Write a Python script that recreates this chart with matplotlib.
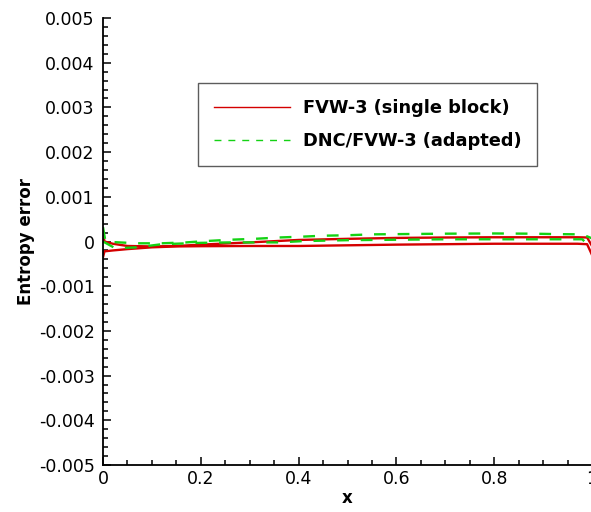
import matplotlib
matplotlib.use("Agg")
import matplotlib.pyplot as plt
from matplotlib.lines import Line2D
from matplotlib.ticker import MultipleLocator, FuncFormatter

plt.rcParams["font.family"] = ["DejaVu Sans"]

# entropy error (units of 1e-3) along the chord, upper / lower branches
x_red_a = [0.0, 0.003, 0.02, 0.05, 0.1, 0.15, 0.2, 0.3, 0.4, 0.5, 0.6, 0.7, 0.8, 0.9, 0.97, 0.99, 1.0]
y_red_a = [-0.35, -0.22, -0.2, -0.17, -0.13, -0.11, -0.105, -0.1, -0.1, -0.085, -0.07, -0.06, -0.05, -0.05, -0.05, -0.06, -0.3]
x_red_b = [0.0, 0.003, 0.02, 0.05, 0.1, 0.15, 0.2, 0.3, 0.4, 0.5, 0.6, 0.7, 0.8, 0.9, 0.97, 0.99, 1.0]
y_red_b = [0.18, 0.0, -0.05, -0.1, -0.11, -0.1, -0.07, -0.02, 0.035, 0.06, 0.08, 0.09, 0.095, 0.095, 0.095, 0.09, -0.1]

x_grn_a = [0.0, 0.005, 0.025, 0.07, 0.12, 0.17, 0.21, 0.26, 0.31, 0.36, 0.41, 0.45, 0.5, 0.55, 0.6, 0.7, 0.8, 0.88, 0.93, 0.98, 1.0]
y_grn_a = [0.32, 0.0, -0.015, -0.04, -0.04, -0.02, 0.01, 0.04, 0.06, 0.09, 0.11, 0.13, 0.14, 0.16, 0.165, 0.175, 0.18, 0.175, 0.165, 0.16, 0.07]
x_grn_b = [0.0, 0.025, 0.07, 0.12, 0.2, 0.26, 0.36, 0.41, 0.5, 0.6, 0.7, 0.8, 0.9, 0.98, 1.0]
y_grn_b = [0.0, -0.15, -0.13, -0.06, -0.03, -0.02, -0.02, 0.01, 0.03, 0.04, 0.05, 0.05, 0.05, 0.05, -0.16]

legend_labels = ["FVW-3 (single block)", "DNC/FVW-3 (adapted)"]

red = "#d40000"
green = "#14d214"

fig = plt.figure(figsize=(5.91, 5.12), dpi=100)
ax = fig.add_axes([0.1743, 0.0918, 0.8274, 0.873])

ax.plot(x_red_a, [v * 1e-3 for v in y_red_a], color=red, lw=1.7)
ax.plot(x_red_b, [v * 1e-3 for v in y_red_b], color=red, lw=1.7)
ax.plot(x_grn_a, [v * 1e-3 for v in y_grn_a], color=green, lw=1.7, dashes=(5, 5))
ax.plot(x_grn_b, [v * 1e-3 for v in y_grn_b], color=green, lw=1.7, dashes=(5, 5))

ax.set_xlim(0, 1)
ax.set_ylim(-0.005, 0.005)
ax.spines["top"].set_visible(False)
ax.spines["right"].set_visible(False)
for s in ("left", "bottom"):
    ax.spines[s].set_linewidth(1.3)

ax.xaxis.set_major_locator(MultipleLocator(0.2))
ax.xaxis.set_minor_locator(MultipleLocator(0.05))
ax.yaxis.set_major_locator(MultipleLocator(0.001))
ax.yaxis.set_minor_locator(MultipleLocator(0.0002))
ax.tick_params(which="both", direction="in", width=1.1, labelsize=12.5)
ax.tick_params(which="major", length=6)
ax.tick_params(which="minor", length=3.5)
ax.tick_params(axis="y", pad=6)

ax.xaxis.set_major_formatter(FuncFormatter(
    lambda v, p: "0" if abs(v) < 1e-9 else ("1" if abs(v - 1) < 1e-9 else "%.1f" % v)))
ax.yaxis.set_major_formatter(FuncFormatter(
    lambda v, p: "0" if abs(v) < 1e-12 else "%.3f" % v))

ax.set_xlabel("x", fontsize=12, fontweight="bold", labelpad=1)
ax.set_ylabel("Entropy error", fontsize=12, fontweight="bold", labelpad=3)

handles = [
    Line2D([], [], color=red, lw=1.0),
    Line2D([], [], color=green, lw=1.0, dashes=(5, 5)),
]
leg = ax.legend(handles, legend_labels, loc="upper left", bbox_to_anchor=(0.194, 0.855),
                prop={"weight": "bold", "size": 12.8}, frameon=True, fancybox=False,
                handlelength=4.3, handletextpad=0.7, borderpad=0.9, labelspacing=0.85,
                borderaxespad=0)
leg.get_frame().set_edgecolor("#333333")
leg.get_frame().set_linewidth(1.0)

fig.savefig("out.png", dpi=100)
